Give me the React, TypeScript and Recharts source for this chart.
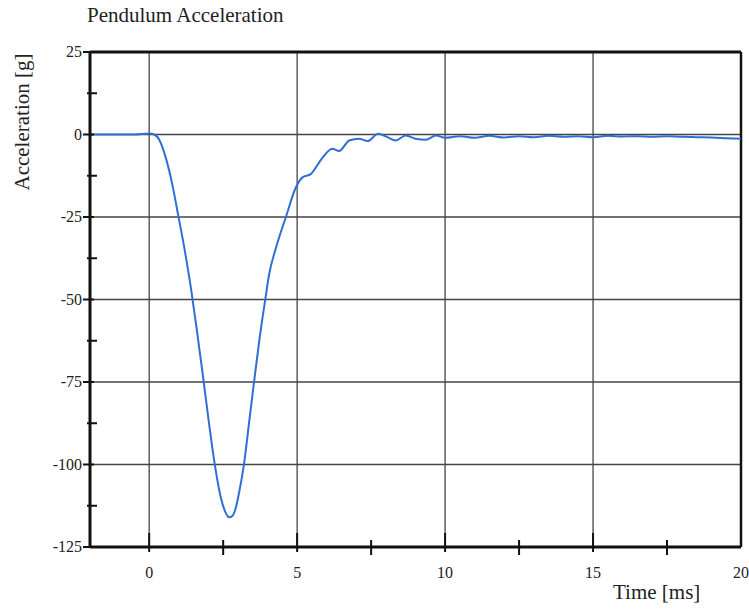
import { LineChart, Line, XAxis, YAxis, CartesianGrid, ReferenceLine } from 'recharts'

// time in ms, acceleration in g
const times = [
  -2, -1, -0.5, 0, 0.17, 0.34, 0.56, 0.79, 0.96, 1.18, 1.41, 1.6, 1.8, 2.0, 2.2, 2.42, 2.58, 2.7,
  2.82, 2.93, 3.05, 3.21, 3.38, 3.55, 3.72, 3.83, 3.94, 4.05, 4.28, 4.62, 4.96, 5.18, 5.46, 5.74,
  5.86, 6.19, 6.42, 6.76, 7.09, 7.38, 7.74, 8.05, 8.33, 8.67, 9.0, 9.35, 9.69, 10.0, 10.5, 11.0,
  11.5, 12.0, 12.5, 13.0, 13.5, 14.0, 14.5, 15.0, 15.5, 16.0, 16.5, 17.0, 17.5, 18.0, 18.5, 19.0,
  19.5, 20.0,
]
const accel = [
  0, 0, 0, 0.3, 0, -1.6, -7, -15.5, -23.5, -34, -46.5, -58.5, -72, -86, -99, -110, -114.5, -116,
  -115.5, -113, -108, -99.5, -87, -74.5, -62.5, -55.5, -49, -42.5, -34.5, -25, -16, -13, -12, -8.5,
  -7, -4.3, -5.0, -1.8, -1.3, -2.0, 0.2, -0.8, -1.8, -0.3, -1.3, -1.6, -0.3, -1.0, -0.5, -1.0,
  -0.4, -0.9, -0.5, -0.8, -0.4, -0.7, -0.5, -0.8, -0.4, -0.6, -0.5, -0.7, -0.5, -0.7, -0.8, -0.9,
  -1.1, -1.3,
]

const xTicks = [0, 2.5, 5, 7.5, 10, 12.5, 15, 17.5, 20]
const yTicks = [-125, -112.5, -100, -87.5, -75, -62.5, -50, -37.5, -25, -12.5, 0, 12.5, 25]
const xGrid = [0, 5, 10, 15]
const yGrid = [0, -25, -50, -75, -100]

const data = times.map((t, i) => ({ t, g: accel[i] }))

const serif = '"Liberation Serif", "DejaVu Serif", serif'

function YTick({ x, y, payload }: any) {
  const ax = x + 8
  const major = payload.value % 25 === 0
  return (
    <g>
      <line x1={major ? ax - 7 : ax - 3} x2={major ? ax + 4 : ax + 7} y1={y} y2={y} stroke="#111" strokeWidth={2} />
      {major && (
        <text x={x} y={y} dy={5} textAnchor="end" fontFamily={serif} fontSize={16} fill="#222">
          {payload.value}
        </text>
      )}
    </g>
  )
}

function XTick({ x, y, payload }: any) {
  const ay = y - 10
  const major = payload.value % 5 === 0
  return (
    <g>
      {payload.value < 20 && (
        <line x1={x} x2={x} y1={major ? ay - 14 : ay - 7} y2={major ? ay + 5 : ay + 8} stroke="#111" strokeWidth={2} />
      )}
      {major && (
        <text x={x} y={y} dy={21} textAnchor="middle" fontFamily={serif} fontSize={16} fill="#222">
          {payload.value}
        </text>
      )}
    </g>
  )
}

export default function App() {
  return (
    <div style={{ position: 'absolute', left: 0, top: 0, width: 749, height: 609, background: '#fff', fontFamily: serif, color: '#222' }}>
      <div style={{ position: 'absolute', left: 87, top: 5, fontSize: 21, lineHeight: '21px', whiteSpace: 'nowrap' }}>
        Pendulum Acceleration
      </div>
      <div style={{ position: 'absolute', left: 22, top: 122, fontSize: 21, lineHeight: '21px', whiteSpace: 'nowrap', transform: 'translate(-50%, -50%) rotate(-90deg)' }}>
        Acceleration [g]
      </div>
      <div style={{ position: 'absolute', left: 613, top: 582, fontSize: 21, lineHeight: '21px', whiteSpace: 'nowrap' }}>
        Time [ms]
      </div>
      <LineChart width={749} height={609} data={data} margin={{ top: 52, right: 8, bottom: 32, left: 0 }}>
        <CartesianGrid
          horizontalValues={yGrid}
          verticalValues={xGrid}
          stroke="#444"
          strokeWidth={1.3}
        />
        <XAxis
          type="number"
          dataKey="t"
          domain={[-2, 20]}
          ticks={xTicks}
          interval={0}
          height={30}
          tickSize={0}
          tickMargin={10}
          tickLine={false}
          axisLine={{ stroke: '#111', strokeWidth: 3 }}
          tick={<XTick />}
        />
        <YAxis
          type="number"
          domain={[-125, 25]}
          ticks={yTicks}
          interval={0}
          width={90}
          tickSize={0}
          tickMargin={8}
          tickLine={false}
          axisLine={{ stroke: '#111', strokeWidth: 3 }}
          tick={<YTick />}
        />
        <ReferenceLine y={25} stroke="#111" strokeWidth={3} />
        <ReferenceLine x={20} stroke="#111" strokeWidth={2.5} />
        <Line
          type="monotone"
          dataKey="g"
          stroke="#2f6fd3"
          strokeWidth={2}
          dot={false}
          isAnimationActive={false}
        />
      </LineChart>
    </div>
  )
}
